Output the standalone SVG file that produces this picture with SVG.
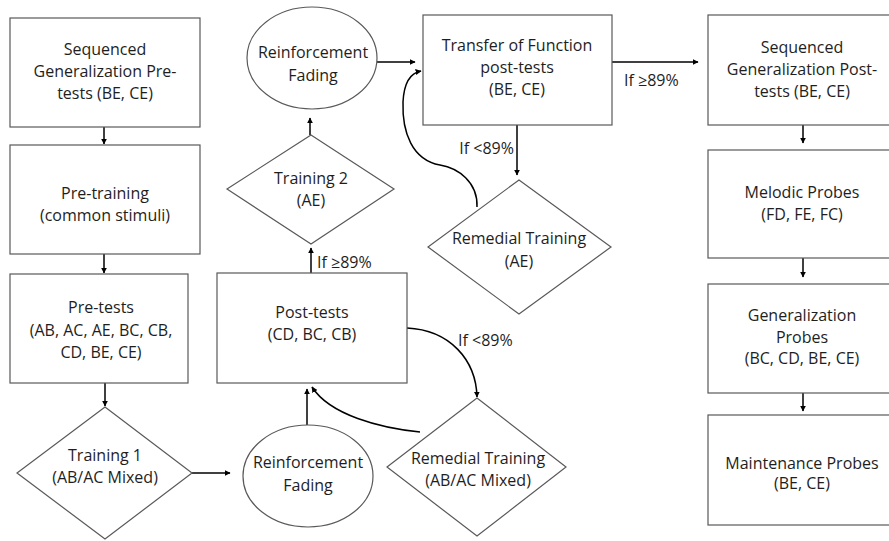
<svg xmlns="http://www.w3.org/2000/svg" width="889" height="541" viewBox="0 0 889 541">
<style>
.shape{fill:#fff;stroke:#595959;stroke-width:1.2}
.t{font-family:"Open Sans","Liberation Sans",sans-serif;font-size:16px;fill:#1e1e1e;text-anchor:middle}
.lbl{font-family:"Open Sans","Liberation Sans",sans-serif;font-size:16px;fill:#1e1e1e}
.c{fill:none;stroke:#000;stroke-width:1.5;marker-end:url(#ah)}
</style>
<defs>
<marker id="ah" viewBox="0 0 10 10" refX="9" refY="5" markerWidth="6" markerHeight="6" markerUnits="userSpaceOnUse" orient="auto">
<path d="M0,0 L10,5 L0,10 z" fill="#000"/>
</marker>
</defs>
<rect width="889" height="541" fill="#fff"/>
<g id="connectors">
<line class="c" x1="104" y1="127" x2="104" y2="144"/>
<line class="c" x1="104" y1="254" x2="104" y2="273"/>
<line class="c" x1="105" y1="383" x2="105" y2="406"/>
<line class="c" x1="192" y1="473" x2="230" y2="473"/>
<line class="c" x1="307" y1="425" x2="307" y2="389"/>
<path class="c" d="M420,432 C380,428 330,415 312,387"/>
<path class="c" d="M407,328 C450,330 476,360 477,397"/>
<line class="c" x1="311" y1="273" x2="311" y2="248"/>
<line class="c" x1="310" y1="135" x2="310" y2="118"/>
<line class="c" x1="377" y1="62" x2="415" y2="62"/>
<path class="c" d="M477,207 C478,182 458,168 440,165 C412,160 402,132 403,102 C404,82 410,73 421,71"/>
<line class="c" x1="517" y1="125" x2="517" y2="175"/>
<line class="c" x1="612" y1="62" x2="698" y2="62"/>
<line class="c" x1="803" y1="125" x2="803" y2="143"/>
<line class="c" x1="803" y1="258" x2="803" y2="277"/>
<line class="c" x1="803" y1="393" x2="803" y2="411"/>
<text class="lbl" x="624" y="86">If ≥89%</text>
<text class="lbl" x="514" y="154" text-anchor="end">If &lt;89%</text>
<text class="lbl" x="458" y="346">If &lt;89%</text>
<text class="lbl" x="317" y="268">If ≥89%</text>
</g>
<g id="seq-pre">
<rect class="shape" x="10" y="18" width="190" height="109"/>
<text class="t" x="105" y="55">Sequenced</text>
<text class="t" x="105" y="77">Generalization Pre-</text>
<text class="t" x="105" y="99">tests (BE, CE)</text>
</g>
<g id="pre-training">
<rect class="shape" x="10" y="145" width="190" height="109"/>
<text class="t" x="105" y="199">Pre-training</text>
<text class="t" x="105" y="221">(common stimuli)</text>
</g>
<g id="pre-tests">
<rect class="shape" x="10" y="274" width="178" height="109"/>
<text class="t" x="101" y="313">Pre-tests</text>
<text class="t" x="101" y="336">(AB, AC, AE, BC, CB,</text>
<text class="t" x="101" y="358">CD, BE, CE)</text>
</g>
<g id="training1">
<polygon class="shape" points="105,407 192,473 105,539 17,473"/>
<text class="t" x="105" y="461">Training 1</text>
<text class="t" x="105" y="483">(AB/AC Mixed)</text>
</g>
<g id="reinf-bottom">
<ellipse class="shape" cx="308" cy="476" rx="65" ry="51"/>
<text class="t" x="308" y="468">Reinforcement</text>
<text class="t" x="308" y="491">Fading</text>
</g>
<g id="post-tests">
<rect class="shape" x="217" y="273" width="190" height="110"/>
<text class="t" x="312" y="318">Post-tests</text>
<text class="t" x="312" y="340">(CD, BC, CB)</text>
</g>
<g id="remedial-abac">
<polygon class="shape" points="477,398 566,467 477,536 387,467"/>
<text class="t" x="478" y="464">Remedial Training</text>
<text class="t" x="478" y="486">(AB/AC Mixed)</text>
</g>
<g id="training2">
<polygon class="shape" points="311,135 394,189 311,244 227,189"/>
<text class="t" x="311" y="184">Training 2</text>
<text class="t" x="311" y="206">(AE)</text>
</g>
<g id="reinf-top">
<ellipse class="shape" cx="312" cy="58" rx="65" ry="51"/>
<text class="t" x="313" y="58">Reinforcement</text>
<text class="t" x="313" y="81">Fading</text>
</g>
<g id="transfer">
<rect class="shape" x="423" y="15" width="189" height="110"/>
<text class="t" x="517" y="51">Transfer of Function</text>
<text class="t" x="517" y="73">post-tests</text>
<text class="t" x="517" y="95">(BE, CE)</text>
</g>
<g id="remedial-ae">
<polygon class="shape" points="519,180 611,247 519,314 428,247"/>
<text class="t" x="519" y="244">Remedial Training</text>
<text class="t" x="519" y="267">(AE)</text>
</g>
<g id="seq-post">
<rect class="shape" x="708" y="15" width="188" height="110"/>
<text class="t" x="802" y="53">Sequenced</text>
<text class="t" x="802" y="75">Generalization Post-</text>
<text class="t" x="802" y="97">tests (BE, CE)</text>
</g>
<g id="melodic">
<rect class="shape" x="708" y="150" width="188" height="108"/>
<text class="t" x="802" y="198">Melodic Probes</text>
<text class="t" x="802" y="220">(FD, FE, FC)</text>
</g>
<g id="gen-probes">
<rect class="shape" x="708" y="284" width="188" height="109"/>
<text class="t" x="802" y="321">Generalization</text>
<text class="t" x="802" y="343">Probes</text>
<text class="t" x="802" y="364">(BC, CD, BE, CE)</text>
</g>
<g id="maintenance">
<rect class="shape" x="708" y="415" width="188" height="110"/>
<text class="t" x="802" y="469">Maintenance Probes</text>
<text class="t" x="802" y="489">(BE, CE)</text>
</g>
</svg>
